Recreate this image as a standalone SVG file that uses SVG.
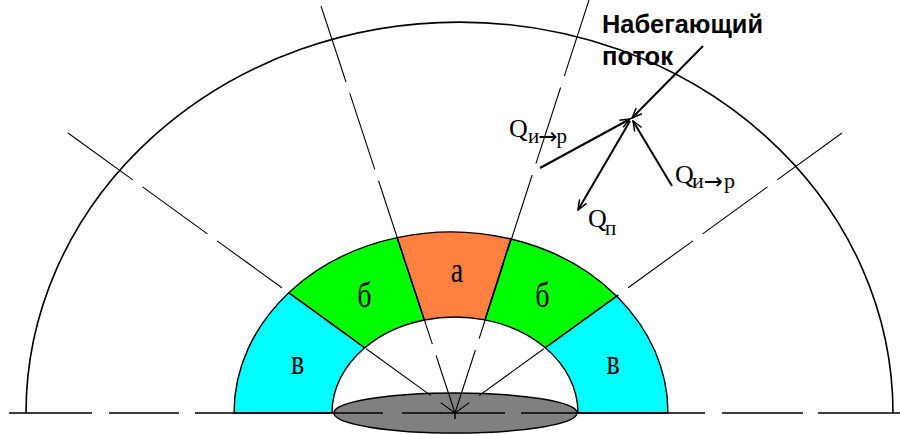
<svg xmlns="http://www.w3.org/2000/svg" width="900" height="434" viewBox="0 0 900 434">
<style>
.seg{stroke:#000;stroke-width:1.4;stroke-linejoin:round}
.ray{stroke:#000;stroke-width:1.1;fill:none;stroke-dasharray:80 12}
.base{stroke:#000;stroke-width:1.6}
.arrow{stroke:#000;stroke-width:2;fill:none;marker-end:url(#ah)}
.lbl{font-family:"Liberation Serif","Times New Roman",serif;fill:#000}
.ar{font-family:"DejaVu Sans",sans-serif;font-size:23px}
.hd{font-family:"Liberation Sans",Arial,sans-serif;font-weight:bold;fill:#000}
</style>
<defs>
<marker id="ah" viewBox="0 0 12 10" refX="11" refY="5" markerWidth="12" markerHeight="10" markerUnits="userSpaceOnUse" orient="auto">
<path d="M1,1 L11,5 L1,9" fill="none" stroke="#000" stroke-width="1.5"/>
</marker>
</defs>
<rect width="900" height="434" fill="#fff"/>
<g id="outer-arc">
<path d="M26,413 A433.5,391 0 0 1 893,413" fill="none" stroke="#000" stroke-width="1.6"/>
</g>
<g id="zone-v-left">
<path class="seg" fill="#00FFFF" d="M234,413 A217,181 0 0 1 288.8,292.7 L364.8,347.7 A123,96 0 0 0 332,413 Z"/>
</g>
<g id="zone-b-left">
<path class="seg" fill="#00FF00" d="M288.8,292.7 A217,181 0 0 1 397.2,237.6 L424.4,320 A123,96 0 0 0 364.8,347.7 Z"/>
</g>
<g id="zone-a">
<path class="seg" fill="#FF8040" d="M397.2,237.6 A217,181 0 0 1 511,239 L485,319.9 A123,96 0 0 0 424.4,320 Z"/>
</g>
<g id="zone-b-right">
<path class="seg" fill="#00FF00" d="M511,239 A217,181 0 0 1 616.8,296.2 L545.3,347.8 A123,96 0 0 0 485,319.9 Z"/>
</g>
<g id="zone-v-right">
<path class="seg" fill="#00FFFF" d="M616.8,296.2 A217,181 0 0 1 668,413 L578,413 A123,96 0 0 0 545.3,347.8 Z"/>
</g>
<g id="body">
<ellipse cx="455.5" cy="413" rx="121.5" ry="20" fill="#808080" stroke="#000" stroke-width="1.5"/>
</g>
<g id="baseline">
<path class="base" d="M9,413H92 M109,413H179 M195,413H383 M402,413H505 M521,413H705 M722,413H803 M818,413H900"/>
</g>
<g id="rays">
<line class="ray" x1="321" y1="6" x2="455" y2="413"/>
<line class="ray" x1="589" y1="0" x2="455" y2="413"/>
<line class="ray" x1="68" y1="133" x2="455" y2="413"/>
<line class="ray" x1="842" y1="133" x2="455" y2="413"/>
<line x1="455" y1="413" x2="455" y2="419" stroke="#000" stroke-width="1.5"/>
</g>
<g id="zone-labels" class="lbl" font-size="28">
<text transform="translate(457,282) scale(1,1.3)" text-anchor="middle">а</text>
<text transform="translate(364.5,307) scale(1,1.3)" text-anchor="middle">б</text>
<text transform="translate(542.5,307) scale(1,1.3)" text-anchor="middle">б</text>
<text transform="translate(297.5,374) scale(1,1.3)" text-anchor="middle">в</text>
<text transform="translate(613,374) scale(1,1.3)" text-anchor="middle">в</text>
</g>
<g id="connectors">
<line class="arrow" x1="703" y1="46" x2="632" y2="118"/>
<line class="arrow" x1="540" y1="168" x2="630" y2="119"/>
<line class="arrow" x1="672" y1="186" x2="633" y2="121"/>
<line class="arrow" x1="630" y1="121" x2="578" y2="210"/>
</g>
<g id="flow-label">
<text class="hd" x="602" y="33" font-size="25" textLength="161" lengthAdjust="spacingAndGlyphs">Набегающий</text>
<text class="hd" x="602" y="65" font-size="25" textLength="71" lengthAdjust="spacingAndGlyphs">поток</text>
</g>
<g id="q-labels" class="lbl">
<text x="509" y="137" font-size="26">Q</text>
<text x="528" y="143" font-size="21">и<tspan class="ar" dx="-1" dy="1">→</tspan><tspan dx="-1" dy="-1">р</tspan></text>
<text x="675" y="183" font-size="26">Q</text>
<text x="692" y="188" font-size="22">и<tspan class="ar" dx="0" dy="1">→</tspan><tspan dx="1" dy="-1">р</tspan></text>
<text x="588" y="227" font-size="26">Q</text>
<text x="605" y="235" font-size="21">п</text>
</g>
</svg>
